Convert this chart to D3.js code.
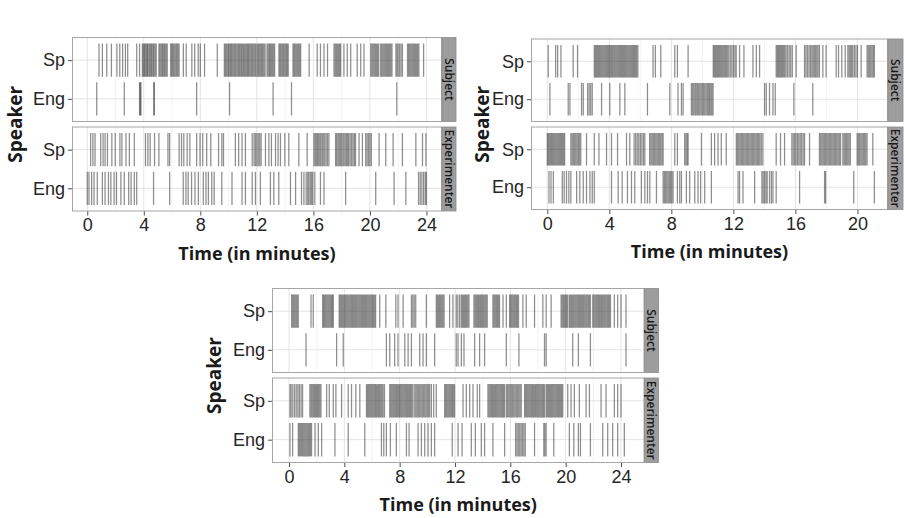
<!DOCTYPE html>
<html>
<head>
<meta charset="utf-8">
<script src="https://cdn.jsdelivr.net/npm/d3@7"></script>
<style>
  html, body { margin: 0; padding: 0; background: #fff; }
  svg { display: block; font-family: "Open Sans", "Noto Sans", sans-serif; }
</style>
</head>
<body>
<div id="chart"></div>
<script>
// event times (minutes)
const speakers = ["Sp", "Eng"];
const facets = ["Subject", "Experimenter"];

// chart 1 (top left)
const c1SubjectSp = [0.83, 1.07, 1.38, 1.71, 2.1, 2.3, 2.5, 2.7, 2.86, 3.5, 3.7,
  3.9, 3.97, 4.05, 4.1, 4.18, 4.25, 4.3, 4.38, 4.45, 4.52, 4.58, 4.66, 4.72, 4.8, 4.88,
  5.07, 5.14, 5.22, 5.3, 5.36, 5.44, 5.5, 5.58, 5.66,
  5.9, 5.97, 6.05, 6.12, 6.2, 6.28, 6.35, 6.42, 6.5,
  6.8, 7.0, 7.4, 7.6, 7.85, 8.0, 8.3, 9.2,
  9.7, 9.78, 9.85, 9.94, 10.0, 10.08, 10.15, 10.22, 10.3, 10.38, 10.45, 10.52, 10.6, 10.68, 10.75,
  10.82, 10.9, 10.97, 11.05, 11.12, 11.2, 11.28, 11.35, 11.42, 11.5, 11.58, 11.65, 11.72, 11.8, 11.88, 11.95,
  12.05, 12.12, 12.2, 12.28, 12.35, 12.42, 12.5, 12.58,
  12.72, 12.8, 12.88, 12.95, 13.02, 13.1, 13.18, 13.26,
  13.56, 13.63, 13.7, 13.78, 13.85, 13.92, 14.0, 14.08, 14.15, 14.22,
  14.56, 14.63, 14.7, 14.78, 14.86, 14.94, 15.02, 15.1,
  15.7, 16.27, 16.5, 16.75, 17.0,
  17.46, 17.54, 17.62, 17.7, 17.78, 17.86, 17.93,
  18.16, 18.4, 18.64, 19.1, 19.35, 19.58,
  20.06, 20.14, 20.22, 20.3, 20.38, 20.46, 20.54, 20.62,
  20.76, 20.84, 20.92, 21.0, 21.08, 21.16, 21.24, 21.32, 21.4, 21.48, 21.56,
  21.84, 21.92, 22.0, 22.1, 22.2, 22.3,
  22.66, 22.74, 22.82, 22.9, 22.98, 23.06, 23.14, 23.22, 23.3, 23.38, 23.46, 23.8];
const c1SubjectEng = [0.67, 2.62, 3.7, 3.75, 3.8, 4.7, 4.75, 7.74, 10.07, 13.15, 14.45, 21.9];
const c1ExperimenterSp = [0.24, 0.4, 0.55, 0.95, 1.12, 1.26, 1.43, 1.74, 1.98, 2.31, 2.45, 2.74, 2.98, 3.33,
  4.12, 4.29, 4.45, 4.76, 5.07, 5.71, 5.83, 6.5, 6.67, 6.83, 7.07, 7.26, 7.74, 7.98, 8.17, 8.45, 8.74,
  9.29, 9.52, 9.64, 10.48, 10.71, 10.95, 11.19, 11.67, 11.8, 11.9, 12.0, 12.1, 12.2, 12.3,
  12.61, 12.85, 13.03, 13.32, 13.5, 13.67, 13.98, 14.26, 14.97, 15.56,
  16.04, 16.12, 16.2, 16.28, 16.36, 16.45, 16.53, 16.62, 16.7, 16.8, 16.9, 17.0, 17.1,
  17.57, 17.65, 17.74, 17.82, 17.9, 17.98, 18.08, 18.16, 18.25, 18.34, 18.42, 18.5, 18.6, 18.7, 18.8, 18.9, 18.98,
  19.23, 19.47, 19.7, 19.8, 19.9, 20.0, 20.1, 20.65, 21.12, 21.64, 22.3, 23.25, 23.72, 23.96];
const c1ExperimenterEng = [0, 0.12, 0.31, 0.48, 0.71, 1.07, 1.26, 1.5, 1.67, 1.9, 2.07, 2.38, 2.62, 2.93, 3.1,
  3.33, 3.5, 4.69, 5.83, 6.79, 6.98, 7.14, 7.38, 7.62, 7.86, 8.21, 8.4, 8.57, 8.81, 8.98, 9.52, 10.24,
  10.95, 11.19, 11.67, 11.9, 12.25, 12.96, 13.2, 13.55, 14.38, 14.74, 15.16, 15.33, 15.49, 15.6, 15.68,
  15.78, 15.87, 15.95, 16.1, 16.5, 16.75, 18.28, 20.41, 21.71, 22.54, 23.44, 23.56, 23.68, 23.8, 23.92, 24.0];

// chart 2 (top right)
const c2SubjectSp = [0.06, 0.54, 0.67, 0.88, 1.67, 1.95,
  3.03, 3.1, 3.17, 3.24, 3.31, 3.38, 3.45, 3.52, 3.59, 3.66, 3.73, 3.8, 3.87, 3.94, 4.01, 4.08, 4.15,
  4.22, 4.29, 4.36, 4.43, 4.5, 4.57, 4.64, 4.71, 4.78, 4.85, 4.92, 4.99, 5.06, 5.13, 5.2, 5.27, 5.34,
  5.41, 5.48, 5.55, 5.62, 5.69, 5.76, 5.84,
  6.82, 6.97, 7.32, 8.22, 8.39, 9.08,
  10.7, 10.77, 10.84, 10.91, 10.98, 11.05, 11.12, 11.19, 11.26, 11.33, 11.4, 11.47, 11.54, 11.61,
  11.7, 11.8, 11.9, 12.0, 12.1, 12.18,
  12.4, 12.68, 13.26, 13.48, 13.69,
  14.76, 14.83, 14.9, 14.97, 15.04, 15.11, 15.18, 15.25, 15.32, 15.4, 15.5, 15.6, 15.7, 15.8,
  16.05, 16.59, 16.68, 16.78, 16.88, 16.97, 17.06, 17.14, 17.22, 17.3, 17.38, 17.46, 17.55,
  17.77, 17.98, 18.63, 18.78, 18.99, 19.21, 19.38, 19.46, 19.54, 19.62, 19.7, 19.8, 19.9, 20.0,
  20.24, 20.62, 20.7, 20.78, 20.86, 20.94, 21.02, 21.09];
const c2SubjectEng = [0.17, 1.35, 1.46, 2.21, 2.32, 2.6, 2.7, 2.8, 2.9, 3.5, 4.03, 4.68, 5.0, 6.46, 7.9,
  8.43, 8.65, 8.76, 9.29, 9.37, 9.45, 9.53, 9.6, 9.68, 9.76, 9.84, 9.92, 10.0, 10.08, 10.16, 10.24,
  10.32, 10.4, 10.47, 10.55, 10.62, 10.69, 14.01, 14.12, 14.33, 14.55, 14.7, 15.9, 17.12];
const c2ExperimenterSp = [0.0, 0.07, 0.14, 0.21, 0.28, 0.35, 0.42, 0.49, 0.56, 0.63, 0.7, 0.77, 0.84, 0.91,
  0.98, 1.05, 1.12,
  1.52, 1.6, 1.68, 1.76, 1.84, 1.92, 2.0, 2.08, 2.16,
  2.53, 3.03, 3.33, 3.82, 4.14, 4.53, 5.11, 5.32,
  5.6, 5.7, 5.8, 5.9, 6.0, 6.1, 6.2, 6.29,
  6.6, 6.68, 6.76, 6.84, 6.92, 7.0, 7.08, 7.16, 7.24, 7.32, 7.4, 7.47,
  8.22, 8.39, 8.86, 8.94, 9.02, 9.08, 9.94,
  10.58, 10.79, 11.01, 11.22, 11.54,
  12.19, 12.27, 12.35, 12.43, 12.51, 12.59, 12.67, 12.75, 12.83, 12.91, 12.99, 13.07, 13.15, 13.23,
  13.31, 13.39, 13.47, 13.55, 13.63, 13.71, 13.8, 13.9,
  14.76, 15.04, 15.3,
  15.77, 15.86, 15.95, 16.04, 16.13, 16.22, 16.31, 16.4, 16.5, 16.59, 16.91,
  17.55, 17.63, 17.71, 17.79, 17.87, 17.95, 18.03, 18.11, 18.19, 18.27, 18.35, 18.43, 18.51, 18.59,
  18.67, 18.75, 18.83, 18.91,
  19.06, 19.14, 19.22, 19.3, 19.38, 19.46, 19.54,
  19.98, 20.06, 20.14, 20.22, 20.3, 20.38, 20.46, 20.54, 20.62, 20.99];
const c2ExperimenterEng = [0.11, 0.24, 0.39, 0.97, 1.09, 1.24, 1.39, 1.52, 1.89, 2.1, 2.32, 2.53, 2.75, 2.9,
  3.03, 4.14, 4.57, 4.83, 5.17, 5.43, 5.64, 6.07, 6.29, 6.46, 6.61, 7.04, 7.47, 7.55, 7.63, 7.71, 7.79,
  7.87, 7.95, 8.03, 8.11, 8.39, 8.54, 8.65, 8.97, 9.18, 9.51, 9.72, 9.89, 10.15, 10.58, 12.3, 12.4,
  12.62, 13.37, 13.84, 13.92, 14.01, 14.1, 14.18, 14.33, 14.45, 14.55, 14.76, 16.27, 17.88, 17.95,
  19.76, 21.09];

// chart 3 (bottom)
const c3SubjectSp = [0.19, 0.27, 0.35, 0.43, 0.51, 0.59, 0.67, 1.59, 1.75,
  2.43, 2.5, 2.58, 2.66, 2.74, 2.82, 2.9, 2.98, 3.06, 3.14, 3.2,
  3.63, 3.7, 3.78, 3.86, 3.94, 4.02, 4.1, 4.18, 4.26, 4.34, 4.42, 4.5, 4.58, 4.66, 4.74, 4.82, 4.9,
  4.98, 5.06, 5.14, 5.22, 5.3, 5.38, 5.46, 5.54, 5.62, 5.7, 5.78, 5.86, 5.94, 6.02, 6.1, 6.18, 6.26,
  6.56, 7.0, 7.72, 7.88, 8.25, 8.85, 8.95, 9.05, 9.16, 9.93,
  10.65, 10.73, 10.81, 10.89, 10.97, 11.05, 11.13, 11.21, 11.61, 11.85, 12.09, 12.2, 12.33,
  12.45, 12.53, 12.61, 12.69, 12.77, 12.85, 12.93, 13.01,
  13.37, 13.45, 13.53, 13.61, 13.69, 13.77, 13.85, 13.93, 14.01, 14.09, 14.17, 14.25, 14.33,
  14.74, 14.82, 14.9, 14.98, 15.06, 15.14, 15.22, 15.47, 15.71,
  15.95, 16.03, 16.11, 16.19, 16.27, 16.35, 16.43, 16.51, 16.59,
  16.91, 17.15, 17.75, 18.35, 18.59, 18.95,
  19.67, 19.75, 19.83, 19.91, 19.99, 20.07, 20.15,
  20.27, 20.35, 20.43, 20.51, 20.59, 20.67, 20.75, 20.83, 20.91, 20.99, 21.07, 21.15, 21.23, 21.31,
  21.39, 21.47, 21.55, 21.63, 21.71, 21.79,
  21.96, 22.04, 22.12, 22.2, 22.28, 22.36, 22.44, 22.52, 22.6, 22.68, 22.76, 22.84, 22.92, 23.0,
  23.08, 23.16, 23.24, 23.52, 23.76, 24.0, 24.36];
const c3SubjectEng = [1.23, 3.44, 3.92, 7.04, 7.28, 7.64, 7.88, 8.37, 8.61, 8.85, 9.45, 9.69, 9.93, 10.53,
  12.09, 12.22, 12.46, 12.65, 13.42, 13.78, 14.14, 15.71, 16.62, 18.47, 18.59, 20.51, 20.92, 21.79, 24.36];
const c3ExperimenterSp = [0.07, 0.15, 0.27, 0.4, 0.52, 0.64, 0.75, 0.87, 0.98,
  1.51, 1.59, 1.67, 1.75, 1.83, 1.91, 1.99, 2.07, 2.15, 2.23, 2.31,
  2.72, 2.91, 3.2, 3.39, 3.8, 4.28, 4.52, 4.83, 5.12,
  5.6, 5.68, 5.76, 5.84, 5.92, 6.0, 6.08, 6.16, 6.24, 6.32, 6.4, 6.48, 6.56, 6.64, 6.72, 6.8, 6.9,
  7.28, 7.36, 7.44, 7.52, 7.6, 7.68, 7.76, 7.84, 7.92, 8.0, 8.08, 8.16, 8.24, 8.32, 8.4, 8.48, 8.56,
  8.64, 8.72, 8.8, 8.88, 8.96,
  9.09, 9.18, 9.27, 9.36, 9.45, 9.54, 9.63, 9.72, 9.81, 9.9, 9.99, 10.08, 10.17, 10.29, 10.46, 10.65,
  11.25, 11.33, 11.41, 11.49, 11.57, 11.65, 11.73, 11.81, 11.89, 11.97,
  12.58, 12.82, 13.06, 13.3, 13.61, 13.78,
  14.38, 14.46, 14.54, 14.62, 14.7, 14.78, 14.86, 14.94, 15.02, 15.1, 15.18, 15.26, 15.34, 15.42, 15.5, 15.58,
  15.71, 15.8, 15.89, 15.98, 16.07, 16.16, 16.25, 16.34, 16.43, 16.52, 16.61, 16.7, 16.79,
  17.03, 17.11, 17.19, 17.27, 17.35, 17.43, 17.51, 17.59, 17.67, 17.75, 17.83, 17.91, 17.99, 18.07,
  18.15, 18.23, 18.31, 18.39, 18.47,
  18.59, 18.67, 18.75, 18.83, 18.91, 18.99, 19.07, 19.15, 19.23, 19.31, 19.39, 19.47, 19.55, 19.63,
  19.71, 19.79,
  20.15, 20.39, 20.63, 20.99, 21.48, 21.72, 22.56, 22.92, 23.52, 23.76, 24.0];
const c3ExperimenterEng = [0.07, 0.26, 0.67, 0.75, 0.83, 0.91, 0.99, 1.07, 1.15, 1.23, 1.31, 1.39, 1.47,
  1.55, 1.63, 1.88, 2.12, 2.36, 3.32, 4.28, 5.48, 6.68, 6.85, 7.04, 7.33, 7.76, 8.49, 8.68, 9.33,
  9.57, 9.81, 10.05, 10.29, 10.53, 11.8, 12.22, 12.51, 13.18, 13.47, 13.9, 14.14, 14.74, 15.59,
  16.38, 16.48, 16.58, 16.68, 16.78, 16.88, 16.98, 17.08, 17.75, 18.42, 18.5, 18.59, 19.14, 20.27,
  20.59, 20.92, 21.07, 21.79, 22.68, 23.04, 23.4, 23.76, 24.24];

const c1Ticks = [0, 4, 8, 12, 16, 20, 24];
const c2Ticks = [0, 4, 8, 12, 16, 20];
const c3Ticks = [0, 4, 8, 12, 16, 20, 24];

const width = 904;
const height = 518;

const svg = d3.select("#chart")
  .append("svg")
  .attr("width", width)
  .attr("height", height)
  .attr("viewBox", [0, 0, width, height]);

// one chart = two facet panels stacked, sharing an x axis
function drawChart(cfg) {
  const g = svg.append("g");
  const x = d3.scaleLinear(cfg.domain, [cfg.left, cfg.right]);
  const minor = cfg.ticks.map(t => t + 2).filter(t => x(t) < cfg.right);

  cfg.panels.forEach((p, i) => {
    const y = d3.scalePoint(speakers, [p.y0, p.y1]).padding(0.6);
    const half = y.step() * 0.43;

    g.append("rect")
      .attr("x", cfg.left).attr("y", p.y0)
      .attr("width", cfg.right - cfg.left).attr("height", p.y1 - p.y0)
      .attr("fill", "#fff");

    // grid
    g.append("g").selectAll("line").data(minor).join("line")
      .attr("x1", d => x(d)).attr("x2", d => x(d))
      .attr("y1", p.y0).attr("y2", p.y1)
      .attr("stroke", "#f0f0f0").attr("stroke-width", 0.8);
    g.append("g").selectAll("line").data(cfg.ticks).join("line")
      .attr("x1", d => x(d)).attr("x2", d => x(d))
      .attr("y1", p.y0).attr("y2", p.y1)
      .attr("stroke", "#e4e4e4").attr("stroke-width", 1);
    g.append("g").selectAll("line").data(speakers).join("line")
      .attr("x1", cfg.left).attr("x2", cfg.right)
      .attr("y1", d => y(d)).attr("y2", d => y(d))
      .attr("stroke", "#e4e4e4").attr("stroke-width", 1);

    // events
    const events = [];
    speakers.forEach(s => p.data[s].forEach(t => events.push({ s, t })));
    g.append("g").selectAll("line").data(events).join("line")
      .attr("x1", d => x(d.t)).attr("x2", d => x(d.t))
      .attr("y1", d => y(d.s) - half).attr("y2", d => y(d.s) + half)
      .attr("stroke", "#1e1e1e")
      .attr("stroke-opacity", 0.5)
      .attr("stroke-width", 1.25);

    g.append("rect")
      .attr("x", cfg.left + 0.5).attr("y", p.y0 + 0.5)
      .attr("width", cfg.right - cfg.left - 1).attr("height", p.y1 - p.y0 - 1)
      .attr("fill", "none").attr("stroke", "#a6a6a6").attr("stroke-width", 1);

    // facet strip
    g.append("rect")
      .attr("x", cfg.right).attr("y", p.y0 + 0.5)
      .attr("width", cfg.strip).attr("height", p.y1 - p.y0 - 1)
      .attr("fill", "#9d9d9d").attr("stroke", "#8a8a8a").attr("stroke-width", 0.8);
    g.append("text")
      .attr("transform", `translate(${cfg.right + cfg.strip / 2},${(p.y0 + p.y1) / 2}) rotate(90)`)
      .attr("text-anchor", "middle")
      .attr("dy", "0.35em")
      .attr("font-size", 12)
      .attr("font-weight", 600)
      .attr("fill", "#1a1a1a")
      .text(facets[i]);

    // y axis
    const gy = g.append("g")
      .attr("transform", `translate(${cfg.left},0)`)
      .call(d3.axisLeft(y).tickSize(4).tickPadding(3));
    gy.select(".domain").remove();
    gy.selectAll(".tick line").attr("stroke", "#4d4d4d");
    gy.selectAll(".tick text")
      .attr("font-family", null)
      .attr("font-size", 18)
      .attr("fill", "#262626");
  });

  const bottom = cfg.panels[1].y1;
  const gx = g.append("g")
    .attr("transform", `translate(0,${bottom})`)
    .call(d3.axisBottom(x).tickValues(cfg.ticks).tickSize(4).tickPadding(3));
  gx.select(".domain").remove();
  gx.selectAll(".tick line").attr("stroke", "#4d4d4d");
  gx.selectAll(".tick text")
    .attr("font-family", null)
    .attr("font-size", 18)
    .attr("fill", "#262626");

  g.append("text")
    .attr("x", (cfg.left + cfg.right) / 2)
    .attr("y", bottom + 48)
    .attr("text-anchor", "middle")
    .attr("font-size", 18)
    .attr("font-weight", 700)
    .attr("fill", "#1a1a1a")
    .text("Time (in minutes)");

  g.append("text")
    .attr("transform", `translate(${cfg.ylabX},${(cfg.panels[0].y0 + bottom) / 2}) rotate(-90)`)
    .attr("text-anchor", "middle")
    .attr("dy", "0.35em")
    .attr("font-size", 19)
    .attr("font-weight", 700)
    .attr("fill", "#1a1a1a")
    .text("Speaker");
}

drawChart({
  domain: [-1.08, 25.1], left: 72, right: 442, strip: 14, ticks: c1Ticks, ylabX: 15,
  panels: [
    { y0: 37, y1: 122, data: { Sp: c1SubjectSp, Eng: c1SubjectEng } },
    { y0: 126.5, y1: 211.5, data: { Sp: c1ExperimenterSp, Eng: c1ExperimenterEng } }
  ]
});

drawChart({
  domain: [-1.05, 21.97], left: 531, right: 888, strip: 15, ticks: c2Ticks, ylabX: 482,
  panels: [
    { y0: 38.5, y1: 122, data: { Sp: c2SubjectSp, Eng: c2SubjectEng } },
    { y0: 126.5, y1: 210, data: { Sp: c2ExperimenterSp, Eng: c2ExperimenterEng } }
  ]
});

drawChart({
  domain: [-1.23, 25.7], left: 272, right: 644.5, strip: 14, ticks: c3Ticks, ylabX: 214,
  panels: [
    { y0: 288, y1: 373, data: { Sp: c3SubjectSp, Eng: c3SubjectEng } },
    { y0: 377.5, y1: 463, data: { Sp: c3ExperimenterSp, Eng: c3ExperimenterEng } }
  ]
});
</script>
</body>
</html>
